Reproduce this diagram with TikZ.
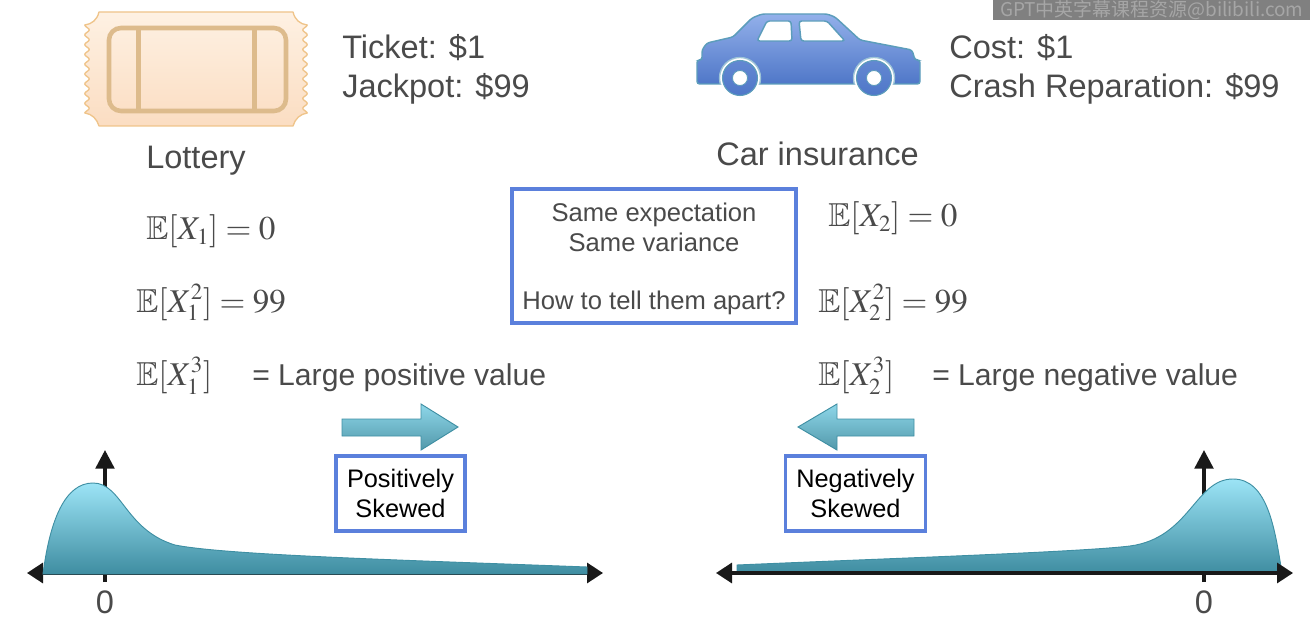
\documentclass[tikz,border=0pt]{standalone}
\usepackage{mathptmx}
\usepackage{amssymb}
\usepackage{fontspec}
\setmainfont{Liberation Sans}
\newfontfamily\cjkfont{Noto Sans CJK SC}
\DeclareMathSizes{24.88}{24.88}{17.28}{14.4}
\usetikzlibrary{arrows.meta}
\definecolor{txt}{HTML}{4A4A4A}
\definecolor{boxblue}{HTML}{5B80DC}
\definecolor{tedge}{HTML}{3F8FA3}
\definecolor{ttop}{HTML}{9CE4F6}
\definecolor{tbot}{HTML}{3F8DA1}
\definecolor{ticketa}{HTML}{FEF1E3}
\definecolor{ticketb}{HTML}{FBDDC2}
\definecolor{ticketc}{HTML}{EFC48A}
\definecolor{ticketd}{HTML}{DDBB8C}
\definecolor{cara}{HTML}{93B0EA}
\definecolor{carb}{HTML}{4F77C8}
\definecolor{carc}{HTML}{5C9DBB}
\tikzset{
  big/.style={font=\fontsize{24.4}{29.25}\selectfont, text=txt, anchor=base west, inner sep=0pt, align=left},
  mid/.style={font=\fontsize{22.6}{27}\selectfont, text=txt, anchor=base west, inner sep=0pt},
  mth/.style={font=\fontsize{24.88}{30}\selectfont, text=txt, anchor=base west, inner sep=0pt},
  note/.style={draw=boxblue, line width=2.6pt, fill=white, align=center, text=black, inner sep=0pt},
  dist/.style={top color=ttop, bottom color=tbot, draw=tedge, line width=0.7pt},
  blockarrow/.style={top color=#1, bottom color=tbot!90!white, draw=tedge, line width=0.7pt},
  axis/.style={line width=2.6pt, black!90, -{Triangle[length=14pt,width=14pt]}},
  axisboth/.style={line width=2.4pt, black!90, {Triangle[length=12pt,width=15pt]}-{Triangle[length=12pt,width=15pt]}},
  ticketedge/.style={top color=ticketa, bottom color=ticketb, draw=ticketc, line width=1pt, line join=round},
  carbody/.style={top color=cara, bottom color=carb, draw=carc, line width=1.1pt, rounded corners=2pt},
}
\begin{document}
\begin{tikzpicture}[x=0.75pt,y=-0.75pt]
\useasboundingbox (0,0) rectangle (1310,620);
% watermark
\node[fill=black!50, minimum width=317*0.75pt, minimum height=20*0.75pt, inner sep=0pt, anchor=north west, text=black!35, font=\cjkfont\fontsize{14.2}{15}\selectfont] (mark) at (993,0) {GPT中英字幕课程资源@bilibili.com};
% ticket
\path[ticketedge] (99,12) -- (293,12) .. controls (295,20) and (300,24) .. (307,25)
  -- plot[domain=25:113,samples=89,smooth] ({305+2.2*cos((\x-25)/9.8*360)},\x)
  .. controls (300,114) and (295,119) .. (293,126) -- (99,126)
  .. controls (97,119) and (92,114) .. (85,113)
  -- plot[domain=113:25,samples=89,smooth] ({87-2.2*cos((\x-25)/9.8*360)},\x)
  .. controls (92,24) and (97,20) .. (99,12) -- cycle;
\draw[ticketd, line width=3.4pt, rounded corners=9pt] (109,28) rectangle (286,111);
\draw[ticketd, line width=3.2pt] (138.5,28) -- (138.5,111) (254.5,28) -- (254.5,111);
% car
\path[carbody] (697,60) -- (702,60) -- (702,50) -- (707,43) -- (733,37) -- (752,18) -- (762,14) -- (827,14) -- (835,17) -- (860,40) -- (912,50) -- (915,60) -- (920,60) -- (920,84) -- (697,84) -- cycle;
\draw[fill=white, draw=carc!60!white, line width=1pt] (740,78) circle (20.5);
\draw[fill=white, draw=carc!60!white, line width=1pt] (874,78) circle (20.5);
\fill[white] (715,84.8) rectangle (899,100);
\path[top color=carb!70!cara, bottom color=carb, draw=carc, line width=.8pt] (740,78) circle (17.5);
\path[top color=carb!70!cara, bottom color=carb, draw=carc, line width=.8pt] (874,78) circle (17.5);
\draw[fill=white, draw=carc, line width=.6pt] (740,78) circle (7.5);
\draw[fill=white, draw=carc, line width=.6pt] (874,78) circle (7.5);
\draw[fill=white, draw=carc, line width=1.1pt, rounded corners=2pt] (767,21) -- (791,21) -- (792,41) -- (757,41) -- cycle;
\draw[fill=white, draw=carc, line width=1.1pt, rounded corners=2pt] (799,21) -- (827,21) -- (845,41) -- (801,41) -- cycle;
% top texts
\node[big] (ticket) at (342,98) {Ticket: \$1\\Jackpot: \$99};
\node[big] (cost) at (949,98) {Cost: \$1\\Crash Reparation: \$99};
\node[big] (lottery) at (146,169) {Lottery};
\node[big] (carins) at (716,166) {Car insurance};
% left math
\node[mth] (m1) at (146,240) {$\mathbb{E}[X_1]=0$};
\node[mth] (m2) at (136,312) {$\mathbb{E}[X_1^2]=99$};
\node[mth] (m3) at (136,385) {$\mathbb{E}[X_1^3]$};
\node[mid] (m3t) at (252,385) {= Large positive value};
% right math
\node[mth] (n1) at (828,227) {$\mathbb{E}[X_2]=0$};
\node[mth] (n2) at (818,312) {$\mathbb{E}[X_2^2]=99$};
\node[mth] (n3) at (818,385) {$\mathbb{E}[X_2^3]$};
\node[mid] (n3t) at (932,385) {= Large negative value};
% centre box
\node[note, minimum width=284*0.75pt, minimum height=134*0.75pt, font=\fontsize{19.2}{22}\selectfont, text=txt] (centre) at (654,256) {\rule{0pt}{18.5pt}Same expectation\\Same variance\\[22pt]How to tell them apart?};
% block arrows
\path[blockarrow=ttop!85!tbot] (342,419) -- (421,419) -- (421,404) -- (458,427) -- (421,450) -- (421,436) -- (342,436) -- cycle;
\path[blockarrow=ttop!85!tbot] (914,419) -- (837,419) -- (837,404) -- (798,427) -- (837,450) -- (837,436) -- (914,436) -- cycle;
\node[note, minimum width=129*0.75pt, minimum height=75*0.75pt, font=\fontsize{19}{22}\selectfont] (pos) at (400.5,493.5) {Positively\\Skewed};
\node[note, minimum width=140*0.75pt, minimum height=75*0.75pt, font=\fontsize{19}{22}\selectfont] (neg) at (855.5,493.5) {Negatively\\Skewed};
% left distribution
\coordinate (la) at (27,573); \coordinate (lb) at (603,573);
\coordinate (ly0) at (105,582); \coordinate (ly1) at (105,450);
\draw[axis] (ly0) -- (ly1);
\draw[axisboth] (la) -- (lb);
\path[dist] (43,574) .. controls (50,520) and (65,483) .. (93,483)
  .. controls (122,483) and (125,530) .. (175,545)
  .. controls (225,555) and (400,560) .. (587,567) -- (587,574) -- cycle;
% right distribution
\coordinate (ra) at (716,573); \coordinate (rb) at (1293,573);
\coordinate (ry0) at (1204,582); \coordinate (ry1) at (1204,450);
\draw[axis] (ry0) -- (ry1);
\path[dist] (737,565) .. controls (900,558) and (1080,552) .. (1130,546)
  .. controls (1190,538) and (1195,479) .. (1233,479)
  .. controls (1268,479) and (1275,530) .. (1282,573) -- (737,573) -- cycle;
\draw[axisboth] (ra) -- (rb);
% zero labels
\node[big, anchor=base] (z1) at (105,613) {0};
\node[big, anchor=base] (z2) at (1204,613) {0};
\end{tikzpicture}
\end{document}
